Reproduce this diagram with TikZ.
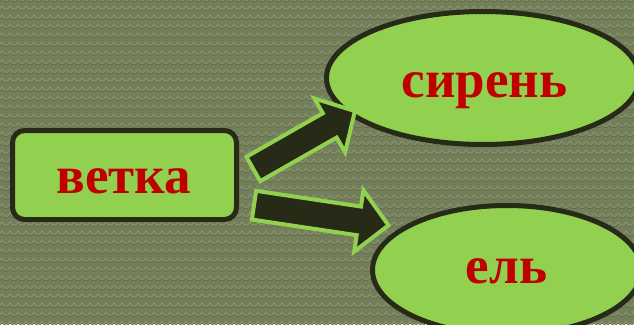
\documentclass[tikz,border=0pt]{standalone}
\usepackage{fontspec}
\setmainfont{Liberation Serif}
\usetikzlibrary{shapes.geometric}
\definecolor{bg}{HTML}{737E5B}
\definecolor{bglight}{HTML}{8A9570}
\definecolor{bgdark}{HTML}{5E6847}
\definecolor{leaf}{HTML}{92D050}
\definecolor{edge}{HTML}{262A16}
\definecolor{word}{HTML}{C00000}
\tikzset{
  boxstyle/.style={draw=edge, fill=leaf, line width=5pt, rounded corners=12pt},
  ovalstyle/.style={draw=edge, fill=leaf, line width=5pt},
  blockarrow/.style={draw=leaf, fill=edge, line width=4pt, line join=miter},
  lbl/.style={text=word, font=\fontsize{53}{60}\selectfont\bfseries, inner sep=0pt},
  texline/.style={draw=bglight, line width=1pt},
  texshade/.style={draw=bgdark, line width=1pt}
}
\begin{document}
\begin{tikzpicture}[x=1pt,y=-1pt]
\useasboundingbox (0,0) rectangle (634,324);
\clip (0,0) rectangle (634,324);
\fill[bg] (0,0) rectangle (634,324);
% background texture
\foreach \r in {0,...,36}{
  \draw[texshade] (0,\r*9+1) \foreach \k in {0,...,79}{ -- (\k*8+2,\r*9-2) -- (\k*8+4,\r*9+1) -- (\k*8+8,\r*9+1)};
  \draw[texline] (0,\r*9) \foreach \k in {0,...,79}{ -- (\k*8+2,\r*9-3) -- (\k*8+4,\r*9) -- (\k*8+8,\r*9)};
}
% nodes
\draw[boxstyle] (12.5,130.5) rectangle (236.5,219.5);
\node[lbl, anchor=base] (vetka) at (124,193) {ветка};
\draw[ovalstyle] (483,78) ellipse [x radius=156.5, y radius=66.5];
\node[lbl, anchor=base] (siren) at (484.5,97) {сирень};
\draw[ovalstyle] (507,270) ellipse [x radius=134.5, y radius=64.5];
\node[lbl, anchor=base] (el) at (506.5,283) {ель};
% block arrows
\coordinate (t1) at (253.3,169);
\coordinate (t2) at (254,205.2);
\begin{scope}[shift={(t1)}, rotate=29.7]
  \draw[blockarrow] (0,-14) -- (88,-14) -- (88,-31) -- (117,0) -- (88,31) -- (88,14) -- (0,14) -- cycle;
\end{scope}
\begin{scope}[shift={(t2)}, rotate=-8.5]
  \draw[blockarrow] (0,-14.5) -- (106,-14.5) -- (106,-31) -- (136,0) -- (106,31) -- (106,14.5) -- (0,14.5) -- cycle;
\end{scope}
\end{tikzpicture}
\end{document}
